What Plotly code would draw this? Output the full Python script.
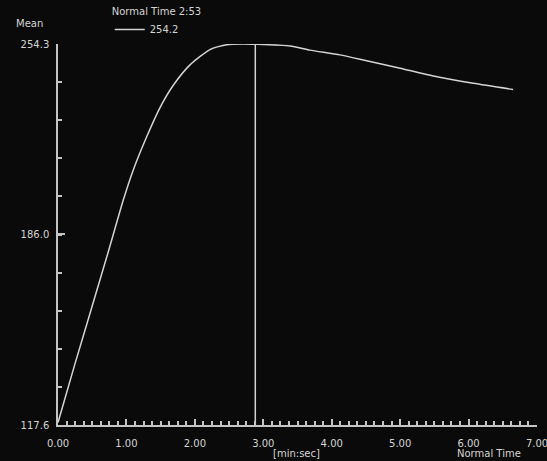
import plotly.graph_objects as go

# Data
time_min = [0.0, 0.25, 0.5, 0.75, 0.954, 1.100, 1.296, 1.491, 1.685, 1.929, 2.221,
            2.465, 2.7, 2.883, 3.39, 3.68, 4.12, 4.51, 5.0, 5.485, 6.07, 6.65]
mean_val = [118.5, 139.7, 160.3, 181.0, 198.3, 209.1, 221.0, 231.5, 239.5, 246.8, 252.3,
            254.05, 254.3, 254.2, 253.6, 252.1, 250.4, 248.3, 245.6, 242.8, 240.2, 238.0]

cursor_time = 2 + 53 / 60.0
cursor_label = "Normal Time 2:53"
cursor_value = "254.2"

y_min, y_max = 117.6, 254.3
y_mid = 186.0
x_ticks = [0, 1, 2, 3, 4, 5, 6, 7]
x_ticktext = ["0.00", "1.00", "2.00", "3.00", "4.00", "5.00", "6.00", "7.00"]
y_ticks = [y_min, y_mid, y_max]
y_ticktext = ["117.6", "186.0", "254.3"]

fg = "#d4d4d4"
axis_c = "#c4c4c4"
bg = "#0a0a0a"
font_family = "DejaVu Sans"

fig = go.Figure()
fig.add_trace(go.Scatter(
    x=time_min, y=mean_val, mode="lines", name=cursor_value,
    line=dict(color=fg, width=1.5, shape="spline", smoothing=0.6),
))
fig.add_trace(go.Scatter(
    x=[cursor_time, cursor_time], y=[y_min, y_max], mode="lines",
    line=dict(color=fg, width=1.5), showlegend=False, hoverinfo="skip",
))

fig.update_layout(
    width=547, height=461,
    margin=dict(l=58, r=10, t=44, b=36, autoexpand=False),
    paper_bgcolor=bg, plot_bgcolor=bg,
    font=dict(family=font_family, size=10, color=fg),
    showlegend=True,
    legend=dict(
        x=0.108, y=1.11, xanchor="left", yanchor="top",
        bgcolor="rgba(0,0,0,0)", borderwidth=0,
        title=dict(text=cursor_label, font=dict(size=10, color=fg)),
        font=dict(size=10, color=fg),
        tracegroupgap=0,
    ),
    xaxis=dict(
        range=[0, 7], showgrid=False, zeroline=False, automargin=False,
        showline=True, linecolor=axis_c, linewidth=1.5,
        tickmode="array", tickvals=x_ticks, ticktext=x_ticktext,
        ticks="inside", ticklen=6, tickcolor=axis_c, tickwidth=1.5,
        ticklabelstandoff=8, ticklabeloverflow="allow",
        minor=dict(tick0=0, dtick=0.125, ticks="inside", ticklen=4,
                   tickcolor=axis_c, tickwidth=1.5),
    ),
    yaxis=dict(
        range=[y_min, y_max], showgrid=False, zeroline=False, automargin=False,
        showline=True, linecolor=axis_c, linewidth=1.5,
        tickmode="array", tickvals=y_ticks, ticktext=y_ticktext,
        ticks="inside", ticklen=7, tickcolor=axis_c, tickwidth=1.5,
        ticklabelstandoff=5, ticklabeloverflow="allow",
        minor=dict(tick0=y_min, dtick=(y_max - y_min) / 10, ticks="inside",
                   ticklen=4, tickcolor=axis_c, tickwidth=1.5),
    ),
    annotations=[
        dict(text="Mean", xref="paper", yref="paper", x=-0.092, y=1.0525,
             xanchor="left", yanchor="middle", showarrow=False,
             font=dict(size=10, color=fg)),
        dict(text="[min:sec]", xref="paper", yref="paper", x=0.497, y=-0.0735,
             xanchor="center", yanchor="middle", showarrow=False,
             font=dict(size=10, color=fg)),
        dict(text="Normal Time", xref="paper", yref="paper", x=0.90, y=-0.0735,
             xanchor="center", yanchor="middle", showarrow=False,
             font=dict(size=10, color=fg)),
    ],
)

fig.write_html(
    "out.html",
    config={"displayModeBar": False},
    post_script="document.body.style.margin='0px';document.body.style.overflow='hidden';"
                "document.body.style.background='#0a0a0a';",
)
